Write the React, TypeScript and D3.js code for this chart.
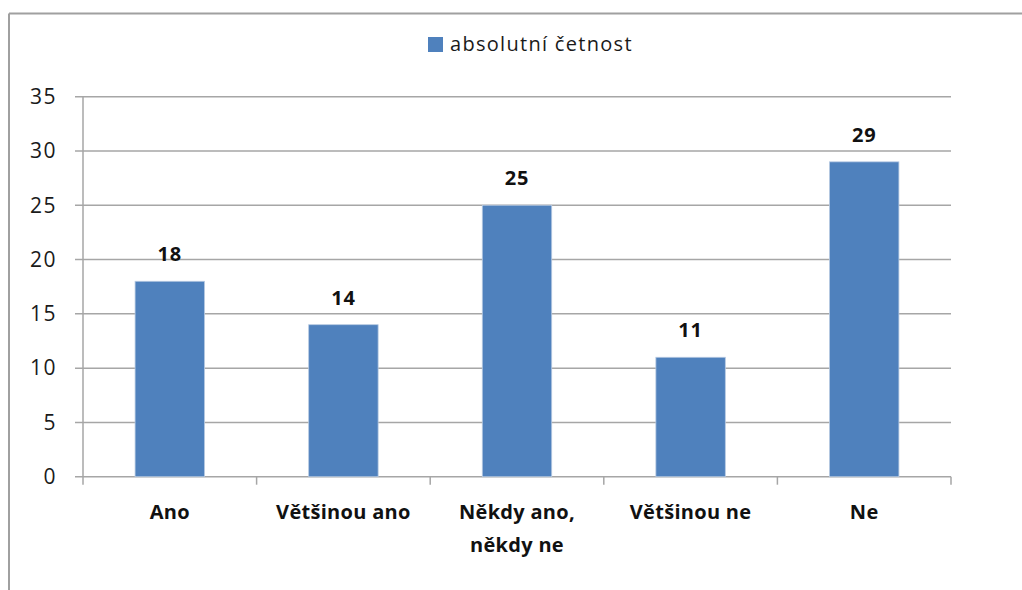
import React from "react";
import * as d3 from "d3";

const categories: string[][] = [
  ["Ano"],
  ["Většinou ano"],
  ["Někdy ano,", "někdy ne"],
  ["Většinou ne"],
  ["Ne"],
];
const values: number[] = [18, 14, 25, 11, 29];
const yTicks: number[] = [0, 5, 10, 15, 20, 25, 30, 35];
const seriesName = "absolutní četnost";

const W = 1022;
const H = 590;
const left = 83;
const right = 951;
const top = 96.7;
const bottom = 476.7;
const FONT = "'Open Sans', 'Noto Sans', sans-serif";
const BAR = "#4F81BD";
const GRID = "#a6a6a6";

export default function App() {
  const x = d3
    .scaleBand<number>()
    .domain(d3.range(values.length))
    .range([left, right])
    .paddingInner(0)
    .paddingOuter(0);
  const y = d3.scaleLinear().domain([0, 35]).range([bottom, top]);
  const bw = x.bandwidth() * 0.4;
  const boundaries = d3.range(values.length + 1).map((i) => left + i * x.step());

  return (
    <svg
      width={W}
      height={H}
      style={{ position: "absolute", left: 0, top: 0, background: "#fff" }}
      fontFamily={FONT}
    >
      <rect x={0} y={0} width={W} height={H} fill="#ffffff" />
      {/* outer frame */}
      <line x1={9} y1={13.5} x2={W} y2={13.5} stroke="#a0a0a0" strokeWidth={2} />
      <line x1={9} y1={13.5} x2={9} y2={H} stroke="#a0a0a0" strokeWidth={2} />

      {/* legend */}
      <rect x={428} y={37} width={15} height={15} fill={BAR} />
      <text x={450} y={51} fontSize={20} letterSpacing={1.3} fill="#1a1a1a">
        {seriesName}
      </text>

      {/* gridlines and y ticks */}
      {yTicks.map((t) => (
        <g key={t}>
          <line
            x1={left - 8}
            x2={right}
            y1={y(t)}
            y2={y(t)}
            stroke={GRID}
            strokeWidth={1.5}
          />
          <text
            x={57}
            y={y(t)}
            dy="0.35em"
            textAnchor="end"
            fontSize={21}
            letterSpacing={1.5}
            fill="#1a1a1a"
          >
            {t}
          </text>
        </g>
      ))}
      {/* y axis */}
      <line x1={left} x2={left} y1={top} y2={bottom} stroke={GRID} strokeWidth={1.5} />
      {/* x ticks */}
      {boundaries.map((b, i) => (
        <line key={i} x1={b} x2={b} y1={bottom} y2={bottom + 8} stroke={GRID} strokeWidth={1.5} />
      ))}

      {/* bars */}
      {values.map((v, i) => {
        const cx = (x(i) as number) + x.bandwidth() / 2;
        return (
          <g key={i}>
            <rect
              x={cx - bw / 2}
              y={y(v)}
              width={bw}
              height={bottom - y(v)}
              fill={BAR}
              stroke="#b7cae2"
              strokeWidth={0.8}
            />
            <text
              x={cx}
              y={y(v) - 20}
              textAnchor="middle"
              fontSize={20}
              letterSpacing={0.8}
              fontWeight="bold"
              fill="#111"
            >
              {v}
            </text>
            {categories[i].map((line, j) => (
              <text
                key={j}
                x={cx}
                y={519 + j * 33}
                textAnchor="middle"
                fontSize={20}
                letterSpacing={0.3}
                fontWeight="bold"
                fill="#111"
              >
                {line}
              </text>
            ))}
          </g>
        );
      })}
    </svg>
  );
}
